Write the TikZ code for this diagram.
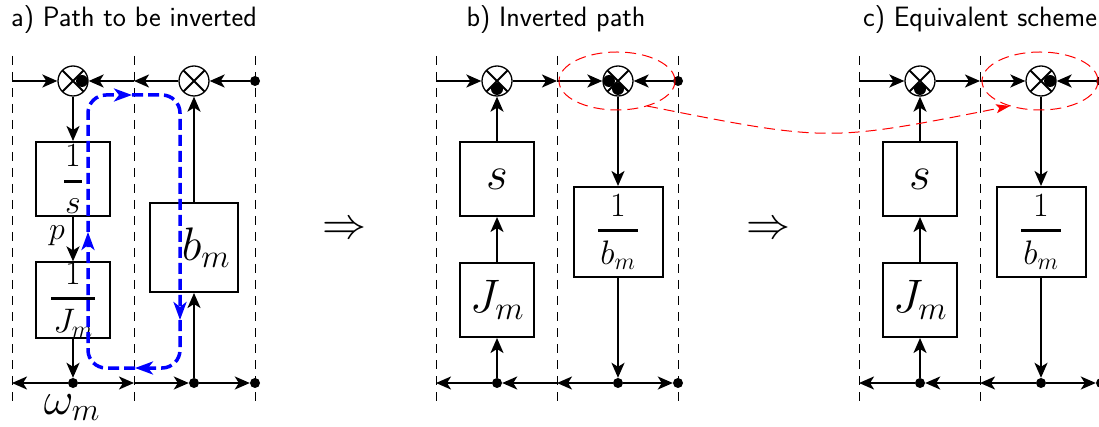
\documentclass[tikz,border=0pt]{standalone}
\usepackage{fix-cm}
\usetikzlibrary{arrows.meta}
\begin{document}
\begin{tikzpicture}[x=1pt,y=-1pt,
  conn/.style={line width=2pt, -{Stealth[length=15pt,width=13pt,inset=4pt]}},
  blk/.style={draw, line width=2pt, minimum width=74pt, minimum height=74pt, inner sep=0pt, font=\fontsize{47}{50}\selectfont},
  fracblk/.style={blk, font=\fontsize{34}{36}\selectfont},
  sumnode/.style={circle, draw, line width=1.3pt, minimum size=30pt, inner sep=0pt,
    path picture={\draw[line width=2pt] (path picture bounding box.north west) -- (path picture bounding box.south east)
      (path picture bounding box.north east) -- (path picture bounding box.south west);}},
  dotnode/.style={circle, fill, minimum size=10pt, inner sep=0pt},
  vdash/.style={line width=1pt, dash pattern=on 9pt off 7pt},
  blueloop/.style={blue, line width=3.5pt, dash pattern=on 11pt off 5pt, rounded corners=18pt,
    -{Stealth[length=18pt,width=13pt,inset=5pt]}},
  redd/.style={red, line width=1pt, dash pattern=on 11pt off 6pt},
  title/.style={font=\sffamily\fontsize{28}{30}\selectfont, anchor=base},
  implies/.style={font=\fontsize{44}{44}\selectfont}
]
\useasboundingbox (0,0) rectangle (1099,427);

% titles
\node[title] (ta) at (134,27) {a) Path to be inverted};
\node[title] (tb) at (556,27) {b) Inverted path};
\node[title] (tc) at (980,27) {c) Equivalent scheme};

% dashed separators
\foreach \x in {12,134,255,436,557,678,859,980,1101}
  \draw[vdash] (\x,56) -- (\x,407);

% ===== panel a =====
\node[sumnode] (a1) at (73,81) {};
\node[sumnode] (a2) at (194,81) {};
\coordinate (aL) at (12,81);
\coordinate (aM) at (134,81);
\node[dotnode] (aR) at (255,81) {};
\node[fracblk] (aInt) at (73,179) {$\displaystyle{1\above 3pt \kern1pt s\kern1pt}$};
\node[fracblk] (aJ) at (73,300) {$\displaystyle{1\above 3pt \kern2pt J_m\kern2pt}$};
\node[blk, minimum width=88pt, minimum height=89pt] (aB) at (194,247.5) {$\kern24pt b_m$};
\node[dotnode] (aD1) at (73,383) {};
\node[dotnode] (aD2) at (194,383) {};
\node[dotnode] (aD3) at (255,383) {};
\coordinate (aBL) at (12,383);
\coordinate (aBM) at (134,383);
\node[font=\fontsize{32}{34}\selectfont] (ap) at (57,236) {$p$};
\node[font=\fontsize{46}{50}\selectfont, anchor=base] (aw) at (72,414) {$\omega_m$};

\draw[conn] (aL) -- (a1);
\draw[conn] (a2) -- (aM);
\draw[conn] (aM) -- (a1);
\draw[conn] (aR) -- (a2);
\draw[conn] (a1) -- (aInt);
\draw[conn] (aInt) -- (aJ);
\draw[conn] (aJ) -- (aD1);
\draw[conn] (aD1) -- (aBL);
\draw[conn] (aD1) -- (aBM);
\draw[conn] (aBM) -- (aD2);
\draw[conn] (aD2) -- (aD3);
\draw[conn] (aD2) -- (aB);
\draw[conn] (aB) -- (a2);
\fill ([xshift=9pt]a1.center) circle (6pt);

% blue loop
\coordinate (lp1) at (88,232);
\coordinate (lp2) at (132,95);
\coordinate (lp3) at (180,320);
\coordinate (lp4) at (135,368);
\draw[blueloop] (lp1) -- (88,95) -- (lp2);
\draw[blueloop] (lp2) -- (180,95) -- (lp3);
\draw[blueloop] (lp3) -- (180,368) -- (lp4);
\draw[blueloop] (lp4) -- (88,368) -- (lp1);

% implies
\node[implies] (im1) at (344,230) {$\Rightarrow$};
\node[implies] (im2) at (768,230) {$\Rightarrow$};

% ===== panel b =====
\node[sumnode] (b1) at (497,81) {};
\node[sumnode] (b2) at (618,81) {};
\coordinate (bL) at (436,81);
\coordinate (bM) at (557,81);
\node[dotnode] (bR) at (678,81) {};
\node[blk] (bS) at (497,179) {$s$};
\node[blk] (bJ) at (497,300) {$J_m$};
\node[fracblk, minimum width=89pt, minimum height=90pt] (bB) at (618,232) {$\displaystyle{1\above 3pt \kern2pt b_m\kern2pt}$};
\node[dotnode] (bD1) at (497,383) {};
\node[dotnode] (bD2) at (618,383) {};
\node[dotnode] (bD3) at (678,383) {};
\coordinate (bBL) at (436,383);
\coordinate (bBM) at (557,383);

\draw[conn] (bL) -- (b1);
\draw[conn] (b1) -- (bM);
\draw[conn] (bM) -- (b2);
\draw[conn] (bR) -- (b2);
\draw[conn] (bS) -- (b1);
\draw[conn] (bJ) -- (bS);
\draw[conn] (bD1) -- (bJ);
\draw[conn] (b2) -- (bB);
\draw[conn] (bB) -- (bD2);
\draw[conn] (bD1) -- (bBL);
\draw[conn] (bBM) -- (bD1);
\draw[conn] (bD2) -- (bBM);
\draw[conn] (bD2) -- (bD3);
\fill ([yshift=-8pt]b1.center) circle (6pt);
\fill ([xshift=-9pt]b2.center) circle (6pt);
\fill ([yshift=-8pt]b2.center) circle (6pt);

% ===== panel c =====
\node[sumnode] (c1) at (920,81) {};
\node[sumnode] (c2) at (1041,81) {};
\coordinate (cL) at (859,81);
\coordinate (cM) at (980,81);
\node[dotnode] (cR) at (1101,81) {};
\node[blk] (cS) at (920,179) {$s$};
\node[blk] (cJ) at (920,300) {$J_m$};
\node[fracblk, minimum width=89pt, minimum height=90pt] (cB) at (1041,232) {$\displaystyle{1\above 3pt \kern2pt b_m\kern2pt}$};
\node[dotnode] (cD1) at (920,383) {};
\node[dotnode] (cD2) at (1041,383) {};
\node[dotnode] (cD3) at (1101,383) {};
\coordinate (cBL) at (859,383);
\coordinate (cBM) at (980,383);

\draw[conn] (cL) -- (c1);
\draw[conn] (c1) -- (cM);
\draw[conn] (cM) -- (c2);
\draw[conn] (cR) -- (c2);
\draw[conn] (cS) -- (c1);
\draw[conn] (cJ) -- (cS);
\draw[conn] (cD1) -- (cJ);
\draw[conn] (c2) -- (cB);
\draw[conn] (cB) -- (cD2);
\draw[conn] (cD1) -- (cBL);
\draw[conn] (cBM) -- (cD1);
\draw[conn] (cD2) -- (cBM);
\draw[conn] (cD2) -- (cD3);
\fill ([yshift=-8pt]c1.center) circle (6pt);
\fill ([xshift=9pt]c2.center) circle (6pt);

% red ellipses and link
\draw[redd] (617,81) ellipse [x radius=58pt, y radius=29pt];
\draw[redd] (1040,81) ellipse [x radius=58pt, y radius=29pt];
\coordinate (rs) at (647,106);
\coordinate (re) at (1010,106);
\draw[redd, -{Stealth[length=14pt,width=9pt,inset=3pt]}] (rs) .. controls (828,142) .. (re);
\end{tikzpicture}
\end{document}
